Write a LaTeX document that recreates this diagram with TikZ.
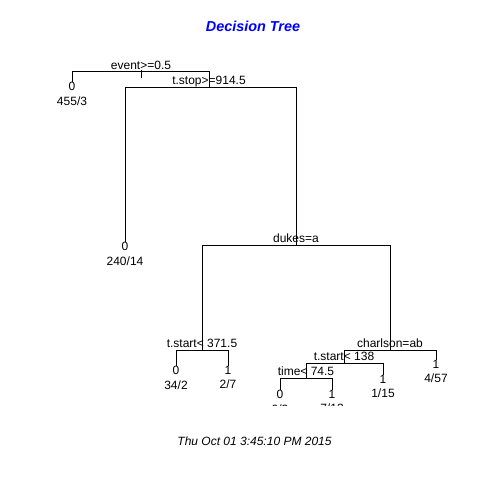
\documentclass[tikz,border=0pt]{standalone}
\usepackage{fontspec}
\setmainfont{Liberation Sans}
\usepackage{xcolor}
\definecolor{cTitle}{HTML}{0000FF}
\definecolor{ink}{HTML}{000000}
\usetikzlibrary{positioning}

\begin{document}
\begin{tikzpicture}[x=1pt,y=-1pt,
  font=\fontsize{12}{14.5}\selectfont,
  split/.style={anchor=base,inner sep=0pt,text=ink},
  leaf/.style={align=center,inner sep=0pt,text=ink},
  br/.style={draw=ink,line width=1pt}]
\useasboundingbox (0,0) rectangle (480,480);
\node[font=\fontsize{14.4}{16}\selectfont\bfseries\itshape,text=cTitle,
  anchor=base,inner sep=0pt] (title) at (253,31) {Decision Tree};
\begin{scope}
\clip (0,0) rectangle (480,405);
% split points
\coordinate (root) at (141,71);
\coordinate (tstop) at (209,87);
\coordinate (dukes) at (296,245);
\coordinate (tstartA) at (202,350);
\coordinate (charl) at (390,350);
\coordinate (tstartB) at (344,363);
\coordinate (time) at (306,378);
% leaves
\coordinate (l1) at (72,82);
\coordinate (l2) at (125,242);
\coordinate (l3) at (176,366);
\coordinate (l4) at (228,366);
\coordinate (l5) at (280,390);
\coordinate (l6) at (332,390);
\coordinate (l7) at (383,375);
\coordinate (l8) at (436,360);
\coordinate (tick) at (141,78);
% branches
\draw[br] (root) -| (l1);
\draw[br] (root) -| (tstop);
\draw[br] ([yshift=1.5pt]root) -- (tick);
\draw[br] (tstop) -| (l2);
\draw[br] (tstop) -| (dukes);
\draw[br] (dukes) -| (tstartA);
\draw[br] (dukes) -| (charl);
\draw[br] (tstartA) -| (l3);
\draw[br] (tstartA) -| (l4);
\draw[br] (charl) -| (tstartB);
\draw[br] (charl) -| (l8);
\draw[br] (tstartB) -| (time);
\draw[br] (tstartB) -| (l7);
\draw[br] (time) -| (l5);
\draw[br] (time) -| (l6);
% split labels
\node[split] (sRoot) at ([yshift=2pt]root) {event>=0.5};
\node[split] (sTstop) at ([yshift=2.5pt]tstop) {t.stop>=914.5};
\node[split] (sDukes) at ([yshift=2.5pt]dukes) {dukes=a};
\node[split] (sTstartA) at ([yshift=2.5pt]tstartA) {t.start< 371.5};
\node[split] (sCharl) at ([yshift=2.5pt]charl) {charlson=ab};
\node[split] (sTstartB) at ([yshift=2.5pt]tstartB) {t.start< 138};
\node[split] (sTime) at ([yshift=2.5pt]time) {time< 74.5};
% leaf labels
\node[leaf,below=0pt of l1] (n1) {0\\455/3};
\node[leaf,below=0pt of l2] (n2) {0\\240/14};
\node[leaf,below=0pt of l3] (n3) {0\\34/2};
\node[leaf,below=0pt of l4] (n4) {1\\2/7};
\node[leaf,below=0pt of l5] (n5) {0\\0/3};
\node[leaf,below=0pt of l6] (n6) {1\\7/13};
\node[leaf,below=0pt of l7] (n7) {1\\1/15};
\node[leaf,below=0pt of l8] (n8) {1\\4/57};
\end{scope}
\node[font=\fontsize{12}{14}\selectfont\itshape,anchor=base,inner sep=0pt]
  (date) at (254.5,445.5) {Thu Oct 01 3:45:10 PM 2015};
\end{tikzpicture}
\end{document}
